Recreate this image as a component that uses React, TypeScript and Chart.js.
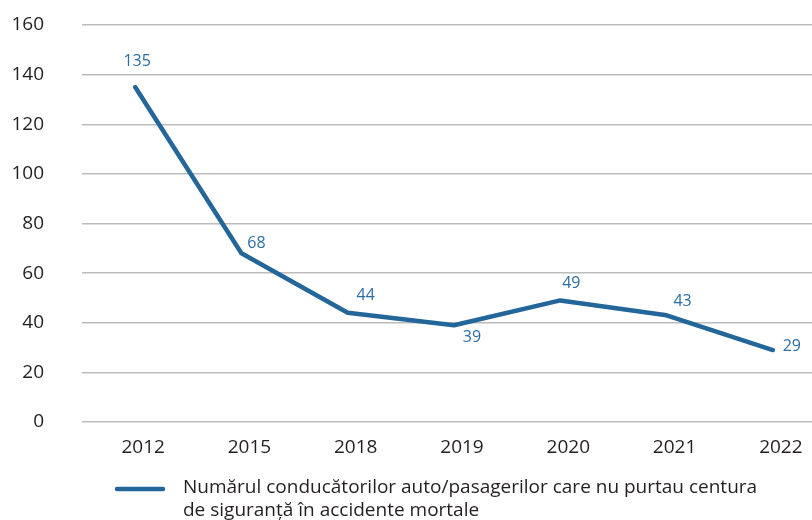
import React, { useEffect, useRef } from "react";
import { Chart, registerables } from "chart.js";

Chart.register(...registerables);

const categories = ["2012", "2015", "2018", "2019", "2020", "2021", "2022"];
const values = [135, 68, 44, 39, 49, 43, 29];
const yTicks = [0, 20, 40, 60, 80, 100, 120, 140, 160];
const legendLines = [
  "Numărul conducătorilor auto/pasagerilor care nu purtau centura",
  "de siguranță în accidente mortale",
];
// label offsets relative to the point (dx, dy)
const labelDx = [2, 15, 18, 18, 11, 16, 19];
const labelDy = [-26, -10, -17, 12, -17, -14, -4];

const LINE = "#23669a";
const LABEL = "#2c6ea3";
const TEXT = "#231f20";
const FONT = "'Open Sans', 'Noto Sans', sans-serif";

export default function App() {
  const ref = useRef<HTMLCanvasElement | null>(null);
  useEffect(() => {
    const canvas = ref.current!;
    const labelsPlugin = {
      id: "pointLabels",
      afterDatasetsDraw(chart: any) {
        const ctx = chart.ctx;
        const meta = chart.getDatasetMeta(0);
        ctx.save();
        ctx.fillStyle = LABEL;
        ctx.font = `16px ${FONT}`;
        ctx.textAlign = "center";
        ctx.textBaseline = "middle";
        meta.data.forEach((pt: any, i: number) => {
          ctx.fillText(String(values[i]), pt.x + labelDx[i], pt.y + labelDy[i]);
        });
        ctx.restore();
      },
    };
    const legendPlugin = {
      id: "customLegend",
      afterDraw(chart: any) {
        const ctx = chart.ctx;
        ctx.save();
        ctx.strokeStyle = LINE;
        ctx.lineWidth = 4.5;
        ctx.lineCap = "round";
        ctx.beginPath();
        ctx.moveTo(117, 489);
        ctx.lineTo(163, 489);
        ctx.stroke();
        ctx.fillStyle = TEXT;
        ctx.font = `19px ${FONT}`;
        ctx.textAlign = "left";
        ctx.textBaseline = "middle";
        legendLines.forEach((t, i) => ctx.fillText(t, 183, 488 + i * 23));
        ctx.restore();
      },
    };
    const chart = new Chart(canvas, {
      type: "line",
      data: {
        labels: categories,
        datasets: [
          {
            data: values,
            borderColor: LINE,
            backgroundColor: LINE,
            borderWidth: 4.5,
            pointRadius: 0,
            tension: 0,
            borderCapStyle: "round",
            borderJoinStyle: "round",
          },
        ],
      },
      options: {
        animation: false,
        responsive: false,
        maintainAspectRatio: false,
        layout: { padding: { top: 25, left: 0, right: 0, bottom: 0 } },
        plugins: { legend: { display: false }, tooltip: { enabled: false } },
        scales: {
          x: {
            offset: true,
            grid: { display: false, drawTicks: false },
            border: { display: false },
            ticks: {
              color: TEXT,
              font: { family: FONT, size: 19 },
              padding: 14,
              labelOffset: 8,
            },
            afterFit(scale: any) {
              scale.height = 98;
              scale.paddingLeft = 0;
              scale.paddingRight = 0;
            },
          },
          y: {
            min: 0,
            max: 160,
            afterBuildTicks(scale: any) {
              scale.ticks = yTicks.map((v) => ({ value: v }));
            },
            grid: { color: "#bcbcbc", lineWidth: 1.5, drawTicks: false },
            border: { display: false },
            ticks: {
              color: TEXT,
              font: { family: FONT, size: 19 },
              padding: 38,
            },
            afterFit(scale: any) {
              scale.width = 82;
              scale.paddingTop = 0;
              scale.paddingBottom = 0;
            },
          },
        },
      },
      plugins: [labelsPlugin, legendPlugin],
    });
    return () => chart.destroy();
  }, []);
  return (
    <div style={{ position: "fixed", left: 0, top: 0, width: 812, height: 520, overflow: "hidden", background: "#fff" }}>
      <canvas ref={ref} width={826} height={520} style={{ display: "block" }} />
    </div>
  );
}
